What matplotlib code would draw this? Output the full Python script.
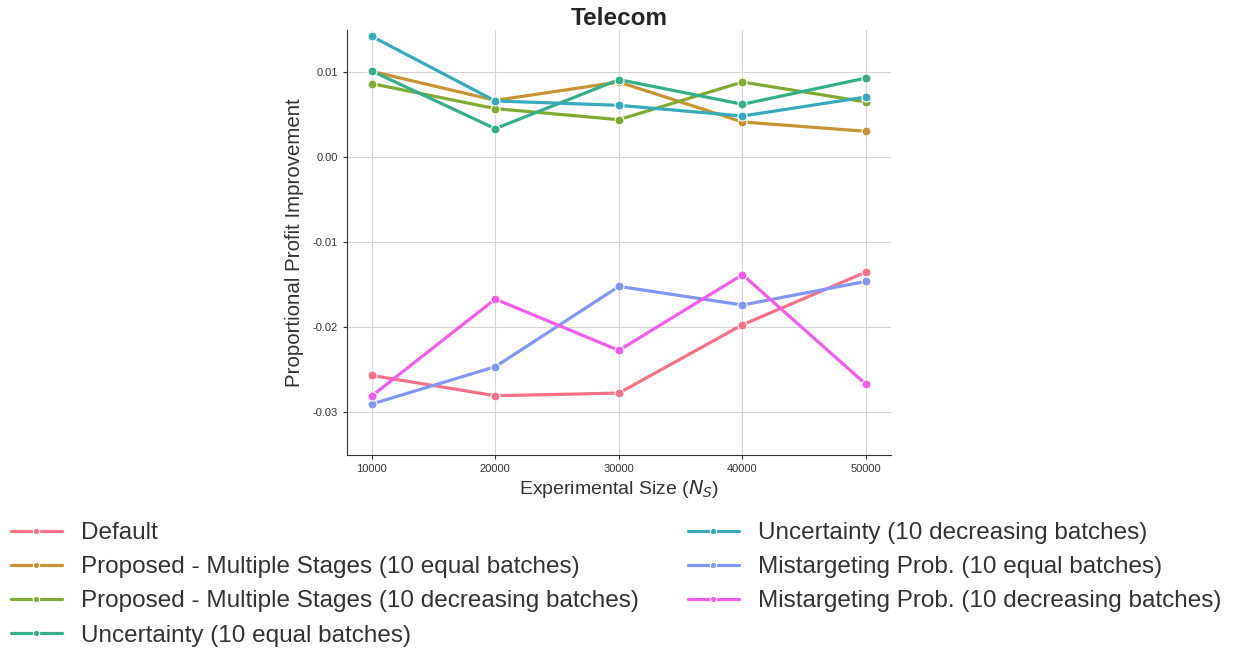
import matplotlib
matplotlib.use("Agg")
import matplotlib.pyplot as plt
import seaborn as sns
import numpy as np

# experimental sizes
sizes = [10000, 20000, 30000, 40000, 50000]

# proportional profit improvement per method
default = [-0.02565, -0.02804, -0.02773, -0.01969, -0.01349]
prop_equal = [0.01012, 0.00670, 0.00886, 0.00416, 0.00306]
prop_decr = [0.00867, 0.00573, 0.00443, 0.00886, 0.00651]
unc_equal = [0.01016, 0.00337, 0.00914, 0.00624, 0.00933]
unc_decr = [0.01424, 0.00663, 0.00612, 0.00486, 0.00710]
mis_equal = [-0.02902, -0.02463, -0.01518, -0.01737, -0.01459]
mis_decr = [-0.02808, -0.01667, -0.02271, -0.01380, -0.02671]

labels = ['Default',
          'Proposed - Multiple Stages (10 equal batches)',
          'Proposed - Multiple Stages (10 decreasing batches)',
          'Uncertainty (10 equal batches)',
          'Uncertainty (10 decreasing batches)',
          'Mistargeting Prob. (10 equal batches)',
          'Mistargeting Prob. (10 decreasing batches)']
series = [default, prop_equal, prop_decr, unc_equal, unc_decr, mis_equal, mis_decr]

sns.set_style("ticks")
plt.rcParams['font.family'] = ['Liberation Sans', 'DejaVu Sans']
colors = sns.color_palette("husl", 7)

fig = plt.figure(figsize=(12.39, 6.48), dpi=100)
ax = fig.add_axes([0.280, 0.298, 0.439, 0.656])

for vals, lab, c in zip(series, labels, colors):
    ax.plot(sizes, vals, color=c, lw=2.3, marker='o', markersize=6.5,
            markeredgecolor='white', markeredgewidth=0.8, label=lab)

ax.set_xlim(8000, 52000)
ax.set_ylim(-0.035, 0.015)
ax.set_xticks(sizes)
ax.set_yticks([-0.03, -0.02, -0.01, 0.0, 0.01])
ax.set_yticklabels(['-0.03', '-0.02', '-0.01', '0.00', '0.01'])
ax.tick_params(labelsize=8, colors='#333333', length=3)
ax.grid(True, color='#d5d5d5', lw=0.8)
sns.despine(ax=ax)
ax.spines['left'].set_color('#333333')
ax.spines['bottom'].set_color('#333333')

ax.set_title('Telecom', fontsize=17.5, fontweight='bold', pad=3)
ax.set_xlabel('Experimental Size ($N_S$)', fontsize=14, color='#333333', labelpad=3)
ax.set_ylabel('Proportional Profit Improvement', fontsize=14.8, color='#333333', labelpad=6)

fig.legend(*ax.get_legend_handles_labels(), loc='upper left',
           bbox_to_anchor=(-0.009, 0.228), ncol=2, frameon=False,
           fontsize=17.5, handlelength=2.1, columnspacing=2.0,
           labelspacing=0.5, labelcolor='#333333', markerscale=0.7)

fig.savefig('out.png', dpi=100)
